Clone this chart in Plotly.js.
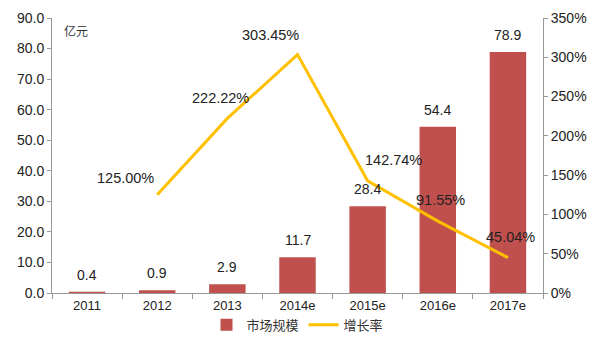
<!DOCTYPE html>
<html><head><meta charset="utf-8">
<script src="https://cdn.plot.ly/plotly-3.0.1.min.js"></script>
<style>body{margin:0}#c{width:600px;height:360px}</style>
</head><body><div id="c"></div>
<script>
const categories = ['2011','2012','2013','2014e','2015e','2016e','2017e'];
const marketSize = [0.4, 0.9, 2.9, 11.7, 28.4, 54.4, 78.9];
const growthRate = [null, 125.00, 222.22, 303.45, 142.74, 91.55, 45.04];
const growthLabels = ['', '125.00%', '222.22%', '303.45%', '142.74%', '91.55%', '45.04%'];
const labelShiftX = [0, -32, -7, -27, 26, 3, 3];
const labelShiftY = [0, 17, 20, 20, 21, 21, 21];

const F = 'Liberation Sans, Arial, Noto Sans CJK SC, sans-serif';
const annotations = [];
categories.forEach((c,i)=>{
  annotations.push({x:i, y:marketSize[i], xref:'x', yref:'y', text:marketSize[i].toFixed(1),
    showarrow:false, yanchor:'bottom', yshift:7, font:{family:F, size:14, color:'#222'}});
  if (growthRate[i] === null) return;
  annotations.push({x:i, y:growthRate[i], xref:'x', yref:'y2', text:growthLabels[i],
    showarrow:false, xshift:labelShiftX[i], yshift:labelShiftY[i],
    font:{family:F, size:14.5, color:'#222'}});
});
annotations.push({x:0.02, y:0.955, xref:'paper', yref:'paper', text:'亿元', showarrow:false,
  xanchor:'left', yanchor:'middle', font:{family:'Noto Sans CJK SC', size:12, color:'#333'}});

const data = [
  {type:'bar', name:'市场规模', x:categories, y:marketSize, marker:{color:'#C0504D'}, width:0.52},
  {type:'scatter', mode:'lines', name:'增长率', x:categories, y:growthRate, yaxis:'y2',
   line:{color:'#FFC000', width:3}, connectgaps:false}
];
const layout = {
  width:600, height:360, margin:{l:52, r:57, t:18, b:67},
  paper_bgcolor:'#fff', plot_bgcolor:'#fff',
  font:{family:F, size:13, color:'#222'},
  showlegend:true,
  legend:{orientation:'h', x:0.5, xanchor:'center', y:-0.116, yanchor:'middle',
    font:{family:'Noto Sans CJK SC', size:13, color:'#333'}, traceorder:'normal'},
  xaxis:{type:'category', categoryarray:categories, range:[-0.5, 6.5], autorange:false,
    showline:true, linecolor:'#999', ticks:'outside', tickson:'boundaries',
    ticklen:5, tickcolor:'#999', showgrid:false, tickfont:{size:13}},
  yaxis:{range:[0,90], dtick:10, tickformat:'.1f', showline:true, linecolor:'#999', ticks:'outside',
    ticklen:4, tickcolor:'#999', showgrid:false, zeroline:false, tickfont:{size:14}},
  yaxis2:{range:[0,350], dtick:50, ticksuffix:'%', overlaying:'y', side:'right', showline:true,
    linecolor:'#999', ticks:'outside', ticklen:4, tickcolor:'#999', showgrid:false, zeroline:false,
    tickfont:{size:14}},
  annotations: annotations
};
Plotly.newPlot('c', data, layout, {staticPlot:true});
</script></body></html>
